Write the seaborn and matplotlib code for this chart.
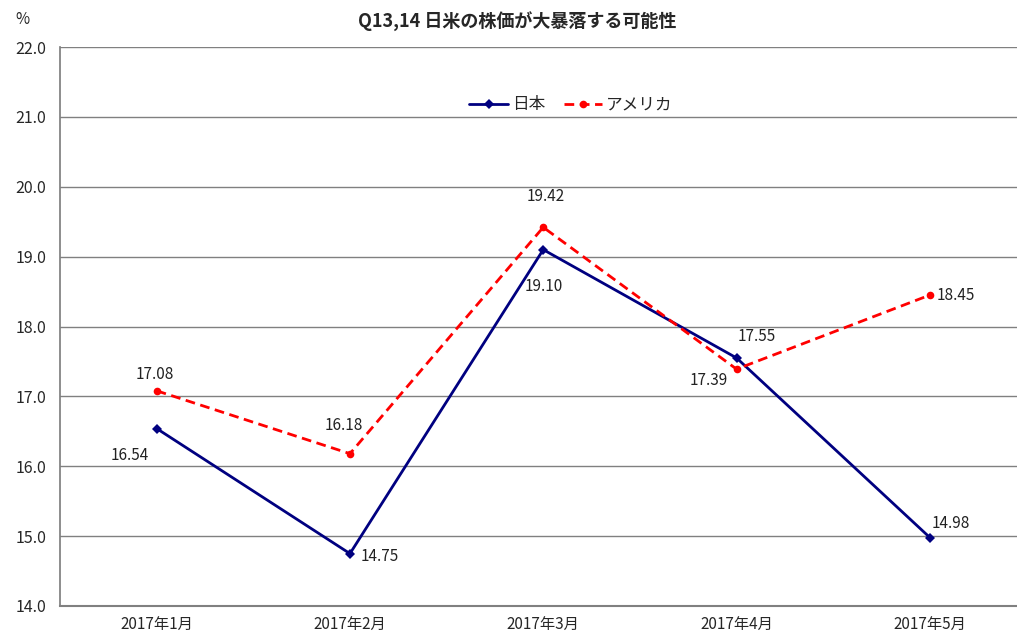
import numpy as np
import pandas as pd
import matplotlib
matplotlib.use("Agg")
import matplotlib.pyplot as plt
import seaborn as sns

# dati
mesi = ["2017年1月", "2017年2月", "2017年3月", "2017年4月", "2017年5月"]
giappone = [16.54, 14.75, 19.10, 17.55, 14.98]
america = [17.08, 16.18, 19.42, 17.39, 18.45]

# offset delle etichette (in pixel) rispetto al punto
off_giappone = [(-27, -27), (30, -3), (0, -37), (20, 21), (21, 14)]
off_america = [(-2, 16), (-6, 28), (2, 31), (-28, -11), (26, 0)]

sns.set_theme(style="white")
plt.rcParams["font.family"] = ["Noto Sans CJK JP", "DejaVu Sans"]

df = pd.DataFrame({"x": np.arange(len(mesi)), "日本": giappone, "アメリカ": america})

fig = plt.figure(figsize=(10.17, 6.36), dpi=100)
graf = fig.add_axes([60 / 1017, 1 - 606 / 636, 966.5 / 1017, 559 / 636])

sns.lineplot(data=df, x="x", y="日本", ax=graf, color="#000080", linewidth=2,
             marker="D", markersize=5, markeredgewidth=0, label="日本")
sns.lineplot(data=df, x="x", y="アメリカ", ax=graf, color="#FF0000", linewidth=2,
             linestyle=(0, (3.5, 2)), marker="o", markersize=5.5,
             markeredgewidth=0, label="アメリカ")

# etichette dei valori
for xi, v, (dx, dy) in zip(df["x"], giappone, off_giappone):
    graf.annotate(f"{v:.2f}", (xi, v), xytext=(dx * 0.72, dy * 0.72),
                  textcoords="offset points", ha="center", va="center",
                  fontsize=11, color="#222222")
for xi, v, (dx, dy) in zip(df["x"], america, off_america):
    graf.annotate(f"{v:.2f}", (xi, v), xytext=(dx * 0.72, dy * 0.72),
                  textcoords="offset points", ha="center", va="center",
                  fontsize=11, color="#222222")

graf.set_xlim(-0.5, len(mesi) - 0.5)
graf.set_ylim(14, 22)
graf.set_yticks(np.arange(14, 22.1, 1))
graf.set_yticklabels([f"{t:.1f}" for t in np.arange(14, 22.1, 1)], fontsize=11.5)
graf.set_xticks(df["x"])
graf.set_xticklabels(mesi, fontsize=11)
graf.set_xticks(np.arange(0.5, len(mesi) - 0.5, 1), minor=True)
graf.tick_params(axis="x", which="major", length=0, pad=7)
graf.tick_params(axis="x", which="minor", length=5, color="#808080", direction="in")
graf.tick_params(axis="y", length=5, color="#808080", direction="out", pad=5)
graf.grid(axis="y", color="#808080", linewidth=1)
graf.set_xlabel("")
graf.set_ylabel("")

for lato in ["top", "right"]:
    graf.spines[lato].set_visible(False)
graf.spines["left"].set_color("#808080")
graf.spines["bottom"].set_color("#808080")
graf.spines["bottom"].set_linewidth(1.5)

graf.legend(loc="center", bbox_to_anchor=(511 / 966.5, 501 / 559), ncol=2,
            frameon=False, fontsize=12, handlelength=2.3, columnspacing=1.1,
            handletextpad=0.25)

fig.text(517 / 1017, 1 - 22 / 636, "Q13,14 日米の株価が大暴落する可能性",
         ha="center", va="center", fontsize=13, fontweight="bold")
fig.text(22 / 1017, 1 - 19 / 636, "%", ha="center", va="center", fontsize=11)

plt.savefig("out.png", dpi=100)
plt.close()
